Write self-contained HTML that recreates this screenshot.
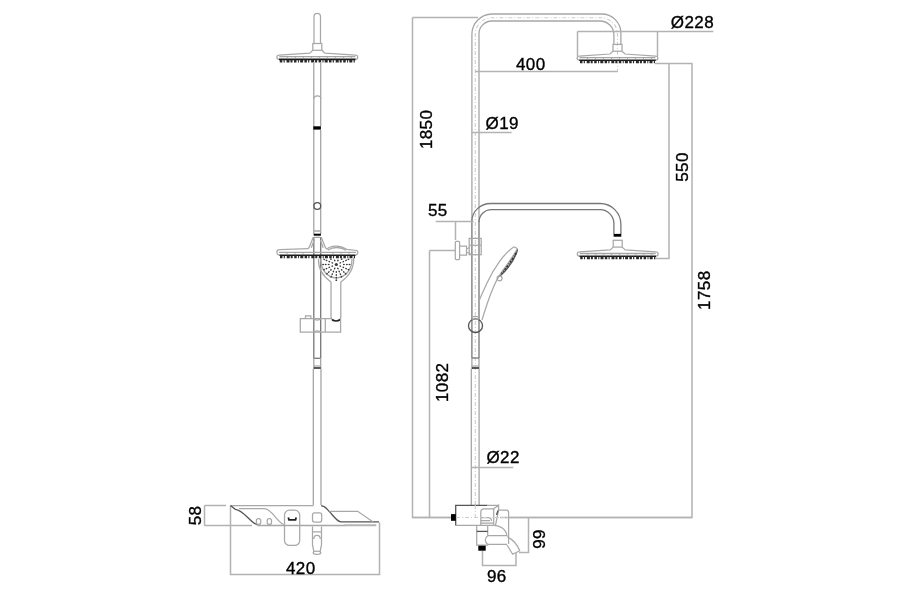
<!DOCTYPE html>
<html><head><meta charset="utf-8">
<style>
html,body{margin:0;padding:0;background:#fff;overflow:hidden;}
svg{display:block;will-change:transform;}
text{font-family:"Liberation Sans",sans-serif;font-size:17px;fill:#000;stroke:#000;stroke-width:0.35;letter-spacing:0.4px;}
.o{fill:none;stroke:#a6a6a6;stroke-width:1.3;}
.m{fill:none;stroke:#a8a8a8;stroke-width:1.25;}
.p{fill:none;stroke:#777;stroke-width:1.3;}
.k{fill:none;stroke:#555;stroke-width:1.3;}
.d{fill:none;stroke:#b2b2b2;stroke-width:1.5;}
.c{fill:none;stroke:#cdcdcd;stroke-width:1.1;stroke-dasharray:4 2 1 2;}
.b{fill:#000;stroke:none;}
.dots{fill:none;stroke:#111;stroke-width:2.4;stroke-dasharray:3 1 2 1 4 1 1 1 2 2;}
</style></head>
<body>
<svg width="900" height="600" viewBox="0 0 900 600">
<rect width="900" height="600" fill="#fff"/>
<defs>
<g id="head">
  <rect class="m" x="-4.5" y="0" width="9" height="6.8"/>
  <path class="m" d="M-4.5,6.8 L-7.5,9.6 L-38.3,11.6 A2.1,2.1 0 0 0 -38.3,15.8 M38.3,15.8 A2.1,2.1 0 0 0 38.3,11.6 L7.5,9.6 L4.5,6.8"/>
  <path class="o" d="M-38,13.2 H38"/>
  <path d="M-38.3,15.9 H38.3" stroke="#1a1a1a" stroke-width="1.6" fill="none"/>
  <path d="M-37.5,17.6 H37.5" stroke="#2a2a2a" stroke-width="2.6" fill="none" stroke-dasharray="2.5 1.2 1.2 1.8 3 1 2 1.5 2.5 1.4 1 1.2 3 1.3"/>
  <path d="M-30,13.3 V15 M-22,13.3 V15 M-14,13.3 V15 M-6,13.3 V15 M2,13.3 V15 M10,13.3 V15 M18,13.3 V15 M26,13.3 V15 M34,13.3 V15" stroke="#999" stroke-width="0.8"/>
</g>
</defs>

<!-- ================= LEFT VIEW ================= -->
<path class="m" d="M314,43.5 V16.5 A3.25,3.25 0 0 1 320.5,16.5 V43.5"/>
<use href="#head" x="317.3" y="43.5"/>
<path class="o" d="M313.8,62 V234 M320.7,62 V126.5 M320.7,130 V234 M313.3,369 V505 M321,369 V505"/>
<path class="p" d="M313.8,237 V358 M320.7,237 V358"/>
<path class="m" d="M314,98.8 A3.4,3 0 0 1 320.8,98.8"/>
<rect class="b" x="313.3" y="126.3" width="7.6" height="3.3"/>
<circle class="k" cx="317.3" cy="206" r="3.4" fill="#fff"/>
<rect class="b" x="313.7" y="233.7" width="7.2" height="2"/>
<path class="o" d="M314,231 H320.5 M314,237.3 H320.5"/>
<!-- second head flare -->
<path class="m" d="M313.2,237.3 L309.8,246 C309.3,247.5 308.8,248.3 307.8,248.8 M321.3,237.3 L324.7,246 C325.2,247.5 325.8,248.5 327,249.2 M314.2,240 L311.3,247.8 M320.3,240 L323.2,247.8"/>
<path class="m" d="M326.7,249.3 C329,246.5 332,246 336,246 C341,246 344,247.5 346.7,249.3 L357,250.5"/>
<path class="o" d="M328,250 C331,247.8 334,247.5 337,247.5 C341,247.5 343.5,248.5 346,250.2"/>
<path class="m" d="M308.3,248.7 L279.5,249.7 A2.65,2.65 0 0 0 279.5,255 M355.5,255 A2.6,2.6 0 0 0 357,250.5"/>
<path class="o" d="M279,252.4 H356"/>
<path d="M279.5,255.2 H355.5" stroke="#1a1a1a" stroke-width="1.4" fill="none"/>
<path d="M280,257 H355" stroke="#2a2a2a" stroke-width="2.6" fill="none" stroke-dasharray="2.5 1.2 1.2 1.8 3 1 2 1.5 2.5 1.4 1 1.2 3 1.3"/>
<path d="M287,252.5 V254.5 M295,252.5 V254.5 M303,252.5 V254.5 M333,252.5 V254.5 M341,252.5 V254.5 M349,252.5 V254.5" stroke="#999" stroke-width="0.8"/>
<!-- hand shower front -->
<path class="m" d="M318.5,259 C318,270 324,277 331,282 V317 C331,319 332,320 334,320.3 M338,320.3 C340,320 340.8,319 340.8,317 V282 C348,277 354,270 353.7,258"/>
<path class="o" d="M320.8,259 C320.8,270 327.5,277.8 336.3,277.8 C345,277.8 352,270 352,259"/>
<path d="M332,319.8 C334.5,321.3 337.5,321.3 340.3,319.8" stroke="#222" stroke-width="1.6" fill="none"/>
<g fill="#3a3a3a"><circle cx="336.3" cy="264.5" r="1.6"/><ellipse cx="340.3" cy="266.1" rx="1" ry="0.75" transform="rotate(22 340.3 266.1)"/><ellipse cx="337.9" cy="268.5" rx="1" ry="0.75" transform="rotate(68 337.9 268.5)"/><ellipse cx="334.7" cy="268.5" rx="1" ry="0.75" transform="rotate(112 334.7 268.5)"/><ellipse cx="332.3" cy="266.1" rx="1" ry="0.75" transform="rotate(158 332.3 266.1)"/><ellipse cx="332.3" cy="262.9" rx="1" ry="0.75" transform="rotate(202 332.3 262.9)"/><ellipse cx="334.7" cy="260.5" rx="1" ry="0.75" transform="rotate(248 334.7 260.5)"/><ellipse cx="337.9" cy="260.5" rx="1" ry="0.75" transform="rotate(292 337.9 260.5)"/><ellipse cx="340.3" cy="262.9" rx="1" ry="0.75" transform="rotate(338 340.3 262.9)"/><ellipse cx="343.9" cy="264.5" rx="1" ry="0.75" transform="rotate(0 343.9 264.5)"/><ellipse cx="343.3" cy="267.4" rx="1" ry="0.75" transform="rotate(22 343.3 267.4)"/><ellipse cx="341.7" cy="269.9" rx="1" ry="0.75" transform="rotate(45 341.7 269.9)"/><ellipse cx="339.2" cy="271.5" rx="1" ry="0.75" transform="rotate(68 339.2 271.5)"/><ellipse cx="336.3" cy="272.1" rx="1" ry="0.75" transform="rotate(90 336.3 272.1)"/><ellipse cx="333.4" cy="271.5" rx="1" ry="0.75" transform="rotate(112 333.4 271.5)"/><ellipse cx="330.9" cy="269.9" rx="1" ry="0.75" transform="rotate(135 330.9 269.9)"/><ellipse cx="329.3" cy="267.4" rx="1" ry="0.75" transform="rotate(158 329.3 267.4)"/><ellipse cx="328.7" cy="264.5" rx="1" ry="0.75" transform="rotate(180 328.7 264.5)"/><ellipse cx="329.3" cy="261.6" rx="1" ry="0.75" transform="rotate(202 329.3 261.6)"/><ellipse cx="330.9" cy="259.1" rx="1" ry="0.75" transform="rotate(225 330.9 259.1)"/><ellipse cx="341.7" cy="259.1" rx="1" ry="0.75" transform="rotate(315 341.7 259.1)"/><ellipse cx="343.3" cy="261.6" rx="1" ry="0.75" transform="rotate(338 343.3 261.6)"/><ellipse cx="346.9" cy="264.5" rx="1" ry="0.75" transform="rotate(0 346.9 264.5)"/><ellipse cx="346.1" cy="268.6" rx="1" ry="0.75" transform="rotate(22 346.1 268.6)"/><ellipse cx="343.8" cy="272.0" rx="1" ry="0.75" transform="rotate(45 343.8 272.0)"/><ellipse cx="340.4" cy="274.3" rx="1" ry="0.75" transform="rotate(68 340.4 274.3)"/><ellipse cx="336.3" cy="275.1" rx="1" ry="0.75" transform="rotate(90 336.3 275.1)"/><ellipse cx="332.2" cy="274.3" rx="1" ry="0.75" transform="rotate(112 332.2 274.3)"/><ellipse cx="328.8" cy="272.0" rx="1" ry="0.75" transform="rotate(135 328.8 272.0)"/><ellipse cx="326.5" cy="268.6" rx="1" ry="0.75" transform="rotate(158 326.5 268.6)"/><ellipse cx="325.7" cy="264.5" rx="1" ry="0.75" transform="rotate(180 325.7 264.5)"/><ellipse cx="326.5" cy="260.4" rx="1" ry="0.75" transform="rotate(202 326.5 260.4)"/><ellipse cx="346.1" cy="260.4" rx="1" ry="0.75" transform="rotate(338 346.1 260.4)"/><ellipse cx="349.5" cy="264.5" rx="1" ry="0.75" transform="rotate(0 349.5 264.5)"/><ellipse cx="348.5" cy="269.6" rx="1" ry="0.75" transform="rotate(22 348.5 269.6)"/><ellipse cx="345.6" cy="273.8" rx="1" ry="0.75" transform="rotate(45 345.6 273.8)"/><ellipse cx="341.4" cy="276.7" rx="1" ry="0.75" transform="rotate(68 341.4 276.7)"/><ellipse cx="336.3" cy="277.7" rx="1" ry="0.75" transform="rotate(90 336.3 277.7)"/><ellipse cx="331.2" cy="276.7" rx="1" ry="0.75" transform="rotate(112 331.2 276.7)"/><ellipse cx="327.0" cy="273.8" rx="1" ry="0.75" transform="rotate(135 327.0 273.8)"/><ellipse cx="324.1" cy="269.6" rx="1" ry="0.75" transform="rotate(158 324.1 269.6)"/><ellipse cx="323.1" cy="264.5" rx="1" ry="0.75" transform="rotate(180 323.1 264.5)"/><ellipse cx="324.1" cy="259.4" rx="1" ry="0.75" transform="rotate(202 324.1 259.4)"/><ellipse cx="348.5" cy="259.4" rx="1" ry="0.75" transform="rotate(338 348.5 259.4)"/><circle cx="336.3" cy="280.2" r="0.9"/></g>
<!-- bracket -->
<path class="m" d="M331,318.7 H300.3 V332.1 H340.6 V318.7 M325.3,318.7 V332.1 M305.5,318.7 V315.8 H310.8 V318.7"/>
<path class="m" d="M313.8,332.1 C315,330.3 319.5,330.3 320.7,332.1 M313.8,318.7 C315,320.5 319.5,320.5 320.7,318.7"/>
<path class="p" d="M313.8,358.3 H320.7"/><path class="o" d="M313.8,358 V369 M320.7,358 V369"/><path d="M313.8,368 H320.7" stroke="#333" stroke-width="1.6"/><path class="m" d="M313.8,366 H320.7"/>

<!-- base -->
<path class="d" d="M204.5,505.5 V525.5 M204.5,505.5 H226 M204.5,525.5 H252 M230.5,505.5 V574.5 H379.5 V522.5"/>
<path class="m" d="M230.5,505.5 H313.5 M321,505.5 H321.5"/>
<path class="k" d="M230.5,505.5 L235.3,509.3 C244,510 250,523 257.7,525"/>
<path class="m" d="M239,508.7 H264.3 C272,509 277,522 283.7,524.5"/>
<path class="o" d="M257.7,525.5 H345"/>
<rect class="m" x="256.4" y="518.6" width="4.3" height="5.8" rx="2"/>
<rect class="m" x="267.2" y="518.6" width="4.3" height="5.8" rx="2"/>
<rect class="m" x="284.5" y="510.2" width="15.2" height="35.2" rx="5"/>
<path d="M288.3,517.5 L289,519.8 H295.5 L296.2,517.5" stroke="#222" stroke-width="1.8" fill="none"/>
<rect class="m" x="312.5" y="512.9" width="9.2" height="9.1" rx="2"/>
<path class="k" d="M321.2,505.7 C325,506 327,509 329.2,511.4 C333,515 336,521 340.8,521.8 H379"/>
<path class="m" d="M329.5,511.3 H357.7 L372.8,521.8"/>
<path d="M344.3,525.3 H376.3" stroke="#b5b5b5" stroke-width="2"/>
<!-- spout -->
<path class="m" d="M312.5,526.4 V545 M321.5,526.4 V545 M312.5,531.8 H321.5 M313.8,539 C313.8,534 320.2,534 320.2,539 M312.5,545 C313,547 314,552 314,552 M321.5,545 C321,547 320,552 320,552"/>
<ellipse class="m" cx="317" cy="552.8" rx="3.8" ry="1.6"/>

<text x="286" y="574">420</text>
<text transform="translate(201,515.5) rotate(-90)" text-anchor="middle">58</text>

<!-- ================= RIGHT VIEW ================= -->
<path class="o" d="M471.3,505 V369 M471.9,221 V35 A20.5,20.5 0 0 1 492,14 H601.7 A19.2,19.2 0 0 1 620.9,33.2 V44.4"/>
<path class="o" d="M479,221 V35 A13,13 0 0 1 492,21 H600 A13.9,13.9 0 0 1 613.9,34.9 V44.4 M479.1,369 V505"/>
<path class="p" d="M471.9,221 V358 M479,221 V358"/><path class="o" d="M471.9,358 V369 M479,358 V369"/>
<path class="c" d="M475.3,505 V35 A16.7,16.7 0 0 1 492,17.7 H601 A16.5,16.5 0 0 1 617.5,34.2 V72"/>
<use href="#head" x="617.5" y="44.4"/>

<!-- 1850 dim -->
<path class="d" d="M412.5,17.5 H478 M412.5,17.5 V517.5 H451"/>
<text transform="translate(432.1,129.4) rotate(-90)" text-anchor="middle">1850</text>
<!-- 400 dim -->
<path class="d" d="M475.3,71.5 H617.6"/>
<text x="516" y="69.5">400</text>
<!-- Ø228 dim -->
<path class="d" d="M577.5,31.5 H713.3 M577.5,31.5 V56 M657.5,31.5 V56"/>
<text x="670.8" y="28">Ø228</text>
<!-- 550 / 1758 dims -->
<path class="d" d="M655,63.5 H692.5 M669,63.5 V258.5 H655 M692,63.5 V517.5 H500"/>
<text transform="translate(687.5,167) rotate(-90)" text-anchor="middle">550</text>
<text transform="translate(710.3,290.2) rotate(-90)" text-anchor="middle">1758</text>
<!-- Ø19 -->
<path class="d" d="M471.5,132.5 H511.6"/>
<text x="485.6" y="128.9">Ø19</text>
<!-- Ø22 -->
<path class="d" d="M471.4,467.5 H513.3"/>
<text x="486.5" y="463">Ø22</text>

<!-- second gooseneck -->
<path class="p" d="M471.9,221 A19,17.5 0 0 1 490.9,203.5 H600 A20.9,20.9 0 0 1 620.9,224.4 V234"/>
<path class="p" d="M479,222 A12.5,12.3 0 0 1 491.5,209.7 H600 A13.9,13.9 0 0 1 613.9,223.9 V234"/>
<rect class="b" x="613.6" y="233.9" width="7.7" height="2.8"/>
<use href="#head" x="617.7" y="240.3"/>

<!-- 55 dim -->
<path class="d" d="M435.7,221.5 H473.7 M455.5,221.5 V240"/>
<text x="428" y="216.3">55</text>
<!-- knob -->
<rect class="m" x="455.3" y="241.3" width="4.3" height="18.2" rx="1"/>
<path class="m" d="M459.6,246.1 H466.5 V255.2 H459.6 M466.5,249 L469.5,247.5 M466.5,252 L471.5,254.5"/>
<rect class="m" x="469.2" y="238.4" width="12" height="16.3"/>
<path class="m" d="M469.2,245.3 H481.2"/>
<!-- 1082 dim -->
<path class="d" d="M429.5,250.5 H455 M429.5,250.5 V517.5"/>
<text transform="translate(448.2,382.3) rotate(-90)" text-anchor="middle">1082</text>

<!-- hand shower side -->
<path class="m" d="M514.2,246.7 C505,252 494,268 487,283 C483,292 480,298 479,301.5 M517.5,248.8 C512,262 505,270 499.2,275.8 C494,284 488,300 482,320"/>
<path class="m" d="M514.2,246.7 L517.5,248.8"/>
<path class="k" d="M517.5,249.5 C515.5,258 509,268 499.5,276.5"/>
<path class="m" d="M516.3,250.5 C512,258 506,266 500,274.5"/>
<path d="M516,253 C512.5,259.5 507.5,266.5 501.5,273.5" stroke="#333" stroke-width="1.6" fill="none" stroke-dasharray="2 1.2 1 1.5 2.5 1"/>
<circle class="m" cx="499.6" cy="278.3" r="2.5"/>
<ellipse class="k" cx="475.5" cy="325.7" rx="7" ry="6.8"/>
<path class="m" d="M471.9,316.5 H479 M471.9,319 H479"/><path class="p" d="M471.9,358 H479"/><path d="M471.9,368 H479" stroke="#333" stroke-width="1.6"/><path class="m" d="M471.9,366 H479"/>

<!-- mixer -->
<path class="k" d="M455.7,525.4 V505.3 H487.5"/>
<path class="m" d="M487.5,505.3 H498.6 M455.7,525.4 H493.7"/>
<rect class="b" x="451" y="514.1" width="4.8" height="6.7"/>
<path class="m" d="M493.7,525.4 V508.8 H484 C482,508.8 480.8,510 480.8,512 V525.4"/>
<path class="m" d="M481,517.5 H488 C490,517.5 491.5,519 491.5,521 M481,520.5 H490 M481,523 H493"/>
<path class="m" d="M493.7,508.8 L498.6,505.3 V510 L495.5,525.4"/>
<path class="k" d="M498,510.5 L496.5,515"/>
<path class="m" d="M498.6,510.2 H506.5 C507.8,510.2 508.6,511 508.6,512.5 V544"/>
<path class="m" d="M493.7,525.4 C500,525.5 506,529 507,536"/>
<path class="m" d="M476.7,525.5 V545 H487.7 V544.3 M487.7,535.7 V525.5"/>
<path class="k" d="M476.7,531.4 H487.7"/>
<rect class="b" x="478.3" y="545.7" width="7.4" height="5"/>
<path class="m" d="M487.7,535.7 H507 M487.7,544.3 H507 M487.7,535.7 C484.5,538 484.5,542 487.7,544.3"/>
<path class="m" d="M507,536.8 C512,539 517,544 519.7,550.7 L512.7,554.3 L507,545"/>
<path class="d" d="M412.5,517.5 H451 M508.6,517.5 H692"/><path class="c" d="M456,517.5 H508"/>
<path class="c" d="M475.3,505 V517.5"/>
<!-- 96 / 99 dims -->
<path class="d" d="M482.5,551 V565.5 H516 V553 M519,552.5 H528.5 V517.5"/>
<text x="487" y="581.8">96</text>
<text transform="translate(545.3,539) rotate(-90)" text-anchor="middle">99</text>
</svg>
</body></html>
